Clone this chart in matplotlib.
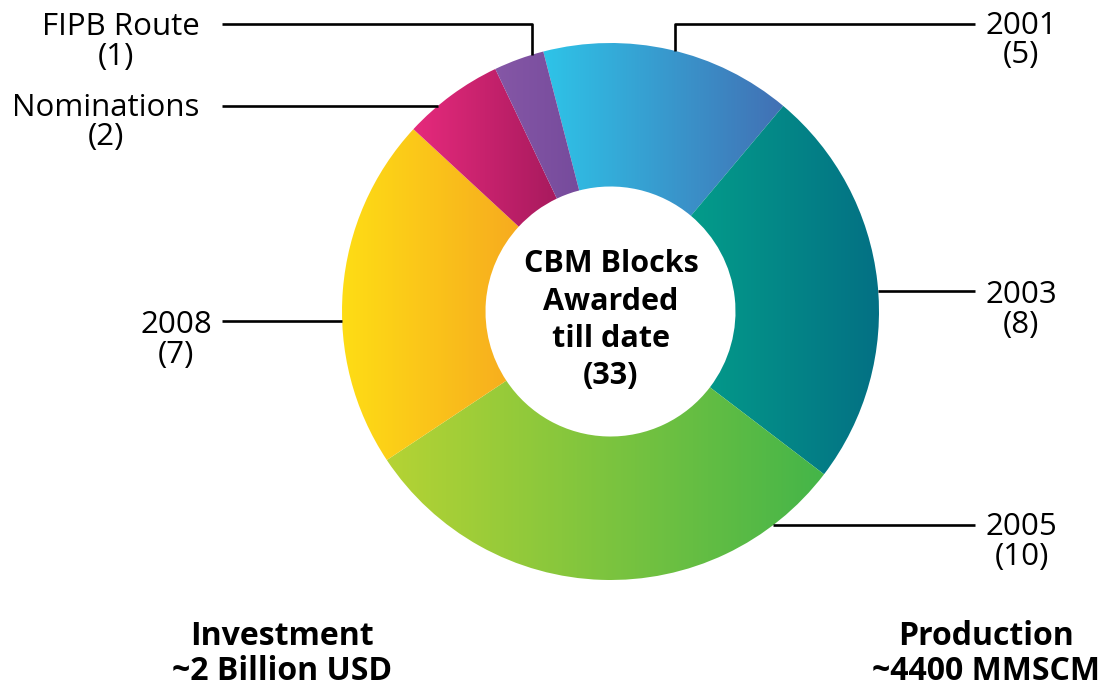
import numpy as np
import matplotlib
matplotlib.use('Agg')
import matplotlib.pyplot as plt
from matplotlib.colors import LinearSegmentedColormap

# data: CBM blocks awarded per round
labels = ['2001', '2003', '2005', '2008', 'Nominations', 'FIPB Route']
blocks = [5, 8, 10, 7, 2, 1]
grad_left = ['#2ec4e8', '#039c8a', '#b5d334', '#fedd15', '#e62a7c', '#8557a6']
grad_right = ['#4270b4', '#047084', '#44b549', '#f7ab1f', '#a81a5e', '#764b9c']
center_lines = ['CBM Blocks', 'Awarded', 'till date']
bottom_left = ['Investment', '~2 Billion USD']
bottom_right = ['Production', '~4400 MMSCM']

plt.rcParams['font.family'] = ['Open Sans', 'DejaVu Sans']

W, H = 1100, 687
fig = plt.figure(figsize=(11, 6.87), dpi=100)
ax = fig.add_axes([0, 0, 1, 1])

cx, cy = 610.5, H - 311.5
R, r_in = 268.5, 125

wedges, _ = ax.pie(blocks, center=(cx, cy), radius=R, startangle=104.5,
                   counterclock=False,
                   wedgeprops=dict(width=R - r_in, edgecolor='none', linewidth=0))

# gradient fill, clipped to each wedge
grad = np.linspace(0, 1, 256).reshape(1, -1)
for w, c0, c1 in zip(wedges, grad_left, grad_right):
    bb = w.get_path().get_extents()
    cmap = LinearSegmentedColormap.from_list('g', [c0, c1])
    im = ax.imshow(grad, cmap=cmap, extent=(bb.x0, bb.x1, bb.y0, bb.y1),
                   aspect='auto', interpolation='bicubic', zorder=1)
    im.set_clip_path(w)
    w.set_facecolor('none')


def circle_x(y_px, side):
    dy = (H - y_px) - cy
    return cx + side * np.sqrt(R ** 2 - dy ** 2)


def circle_y(x_px):
    dx = x_px - cx
    return cy + np.sqrt(R ** 2 - dx ** 2)


lk = dict(color='black', lw=1.9, solid_capstyle='butt', zorder=3)
# leader lines (pixel coords from top)
ax.plot([222, 532, 532], [H - 24, H - 24, circle_y(532)], **lk)
ax.plot([675, 675, 975], [circle_y(675), H - 24, H - 24], **lk)
ax.plot([222, circle_x(106, -1)], [H - 106, H - 106], **lk)
ax.plot([222, circle_x(321, -1)], [H - 321, H - 321], **lk)
ax.plot([circle_x(291, 1), 975], [H - 291, H - 291], **lk)
ax.plot([circle_x(525, 1), 975], [H - 525, H - 525], **lk)

# label text: (index, x centre name, x centre count, baseline y)
label_pos = [
    (0, 1021, 1021, 34),
    (1, 1021, 1021, 303),
    (2, 1021, 1022, 535),
    (3, 176, 176, 333),
    (4, 106, 106, 116),
    (5, 121, 116, 35),
]
fs = 22.5
for i, xa, xb, yb in label_pos:
    ax.text(xa, H - yb, labels[i], ha='center', va='baseline', fontsize=fs)
    ax.text(xb, H - yb - 29.5, f'({blocks[i]})', ha='center', va='baseline', fontsize=fs)

# centre text
for line, yb in zip(center_lines + [f'({sum(blocks)})'], [272, 310, 347, 384]):
    ax.text(611, H - yb, line, ha='center', va='baseline', fontsize=22,
            fontweight='bold')

for (txt, x0) in [(bottom_left, 282), (bottom_right, 986)]:
    ax.text(x0, H - 645, txt[0], ha='center', va='baseline', fontsize=23, fontweight='bold')
    ax.text(x0, H - 680, txt[1], ha='center', va='baseline', fontsize=23, fontweight='bold')

ax.set_xlim(0, W)
ax.set_ylim(0, H)
ax.set_aspect('auto')
ax.axis('off')

fig.savefig('out.png', dpi=100, facecolor='white')
